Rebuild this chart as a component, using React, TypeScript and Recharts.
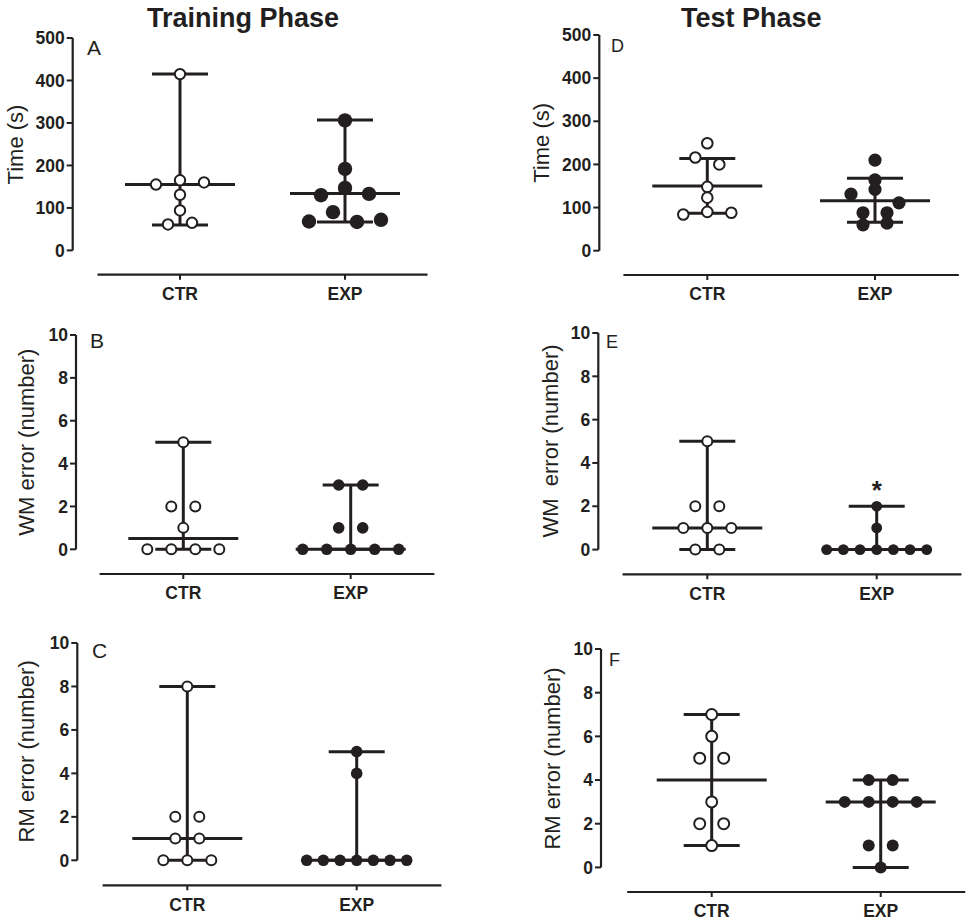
import React from 'react';
import { ScatterChart, Scatter, XAxis, YAxis, ReferenceLine, ReferenceDot } from 'recharts';

const groups = ['CTR', 'EXP'];

// Training phase (values listed row by row, left to right)
const timeTrainCtr = [415, 155, 165, 160, 131, 94, 61, 65];
const timeTrainExp = [306, 192, 130, 147, 133, 68, 90, 67, 72];
const timeTrainCtrLines = [155, 60, 415]; // centre, low, high
const timeTrainExpLines = [134, 67, 307];

const wmTrainCtr = [5, 2, 2, 1, 0, 0, 0, 0];
const wmTrainExp = [3, 3, 1, 1, 0, 0, 0, 0, 0];
const wmTrainCtrLines = [0.5, 0, 5];
const wmTrainExpLines = [0, 0, 3];

const rmTrainCtr = [8, 2, 2, 1, 1, 0, 0, 0];
const rmTrainExp = [5, 4, 0, 0, 0, 0, 0, 0, 0];
const rmTrainCtrLines = [1, 0, 8];
const rmTrainExpLines = [0, 0, 5];

// Test phase
const timeTestCtr = [249, 216, 200, 148, 123, 84, 90, 88];
const timeTestExp = [210, 164, 131, 142, 111, 88, 88, 60, 64];
const timeTestCtrLines = [150, 87, 214];
const timeTestExpLines = [116, 66, 168];

const wmTestCtr = [5, 2, 2, 1, 1, 1, 0, 0];
const wmTestExp = [2, 1, 0, 0, 0, 0, 0, 0, 0];
const wmTestCtrLines = [1, 0, 5];
const wmTestExpLines = [0, 0, 2];

const rmTestCtr = [7, 6, 5, 5, 3, 2, 2, 1];
const rmTestExp = [4, 4, 3, 3, 3, 3, 1, 1, 0];
const rmTestCtrLines = [4, 1, 7];
const rmTestExpLines = [3, 0, 4];

const timeTicks = [0, 100, 200, 300, 400, 500];
const errorTicks = [0, 2, 4, 6, 8, 10];

const FONT = '"Liberation Sans", Arial, Helvetica, sans-serif';
const INK = '#231f20';

// spread points of (nearly) equal value side by side, like a column scatter plot
function swarm(values: number[], centre: number, tol: number, step: number, maxHalf: number) {
  const order = values.map((_, i) => i).sort((a, b) => values[b] - values[a] || a - b);
  const rows: number[][] = [];
  let prev: number | null = null;
  for (const i of order) {
    if (prev !== null && Math.abs(values[i] - prev) <= tol + 1e-9) rows[rows.length - 1].push(i);
    else rows.push([i]);
    prev = values[i];
  }
  const pts: { x: number; y: number }[] = [];
  rows.forEach((row) => {
    row.sort((a, b) => a - b);
    const n = row.length;
    const gap = n > 1 ? Math.min(step, (2 * maxHalf) / (n - 1)) : 0;
    row.forEach((i, k) => pts.push({ x: centre + (k - (n - 1) / 2) * gap, y: values[i] }));
  });
  return pts;
}

const dotShape = (r: number, filled: boolean) => (props: any) => (
  <circle
    cx={props.cx}
    cy={props.cy}
    r={filled ? r : r - 1}
    fill={filled ? INK : '#fff'}
    stroke={filled ? 'none' : INK}
    strokeWidth={2}
  />
);

const panels = [
  { letter: 'A', yLabel: 'Time (s)', yMax: 500, ticks: timeTicks, ctr: timeTrainCtr, exp: timeTrainExp, ctrLines: timeTrainCtrLines, expLines: timeTrainExpLines,
    col: 0, axisX: 72.7, topY: 38.3, zeroY: 250.7, axisY: 275, ctrX: 180, expX: 345, labelX: 15, letterX: 87, letterY: 55, letterSize: 21, rOpen: 6.2, rFill: 7.2 },
  { letter: 'B', yLabel: 'WM error (number)', yMax: 10, ticks: errorTicks, ctr: wmTrainCtr, exp: wmTrainExp, ctrLines: wmTrainCtrLines, expLines: wmTrainExpLines,
    col: 0, axisX: 76, topY: 335, zeroY: 549.3, axisY: 574, ctrX: 183.3, expX: 350.7, labelX: 26, letterX: 90, letterY: 348, letterSize: 21, rOpen: 6, rFill: 5.8 },
  { letter: 'C', yLabel: 'RM error (number)', yMax: 10, ticks: errorTicks, ctr: rmTrainCtr, exp: rmTrainExp, ctrLines: rmTrainCtrLines, expLines: rmTrainExpLines,
    col: 0, axisX: 77.3, topY: 642.7, zeroY: 860, axisY: 885, ctrX: 187.3, expX: 356.7, labelX: 26, letterX: 92, letterY: 658, letterSize: 21, rOpen: 6, rFill: 5.8 },
  { letter: 'D', yLabel: 'Time (s)', yMax: 500, ticks: timeTicks, ctr: timeTestCtr, exp: timeTestExp, ctrLines: timeTestCtrLines, expLines: timeTestExpLines,
    col: 1, axisX: 599.3, topY: 35, zeroY: 250.7, axisY: 275, ctrX: 707.3, expX: 875, labelX: 541, letterX: 611, letterY: 52, letterSize: 18, rOpen: 6.3, rFill: 6.6 },
  { letter: 'E', yLabel: 'WM\u00a0 error (number)', yMax: 10, ticks: errorTicks, ctr: wmTestCtr, exp: wmTestExp, ctrLines: wmTestCtrLines, expLines: wmTestExpLines,
    col: 1, axisX: 598.3, topY: 332.7, zeroY: 549.3, axisY: 574, ctrX: 707.3, expX: 876.7, labelX: 550, letterX: 606, letterY: 348, letterSize: 18, rOpen: 6, rFill: 5.4, star: true },
  { letter: 'F', yLabel: 'RM error (number)', yMax: 10, ticks: errorTicks, ctr: rmTestCtr, exp: rmTestExp, ctrLines: rmTestCtrLines, expLines: rmTestExpLines,
    col: 1, axisX: 601, topY: 649.3, zeroY: 867.7, axisY: 892.3, ctrX: 711.7, expX: 880.7, labelX: 552, letterX: 609, letterY: 666, letterSize: 18, rOpen: 6.5, rFill: 6 },
];

function DotPanel({ p }: { p: any }) {
  const unit = p.expX - p.ctrX;
  const xMin = 1 - (p.ctrX - p.axisX) / unit;
  const xMax = 2.5;
  const yMin = (-p.yMax * (p.axisY - p.zeroY)) / (p.zeroY - p.topY);
  const boxLeft = p.col === 0 ? 0 : 484;
  const width = p.col === 0 ? 480 : 484;
  const boxTop = p.topY - 20;
  const xAxisH = 34;
  const yAxisW = 60;
  const height = Math.round(p.axisY - boxTop + xAxisH + 4);
  const margin = {
    top: p.topY - boxTop,
    left: p.axisX - boxLeft - yAxisW,
    right: boxLeft + width - (p.expX + 0.5 * unit),
    bottom: boxTop + height - p.axisY - xAxisH,
  };
  const tol = p.yMax * 0.04;
  const ctrPts = swarm(p.ctr, 1, tol, 24 / unit, 50 / unit);
  const expPts = swarm(p.exp, 2, tol, 24 / unit, 50 / unit);
  const hw = 55 / unit;
  const cw = 28 / unit;

  const summary = (c: number, lines: number[]) => {
    const [m, lo, hi] = lines;
    return [
      <ReferenceLine key={`v${c}`} segment={[{ x: c, y: lo }, { x: c, y: hi }]} stroke={INK} strokeWidth={3} ifOverflow="visible" />,
      <ReferenceLine key={`lo${c}`} segment={[{ x: c - cw, y: lo }, { x: c + cw, y: lo }]} stroke={INK} strokeWidth={3} ifOverflow="visible" />,
      <ReferenceLine key={`hi${c}`} segment={[{ x: c - cw, y: hi }, { x: c + cw, y: hi }]} stroke={INK} strokeWidth={3} ifOverflow="visible" />,
      <ReferenceLine key={`m${c}`} segment={[{ x: c - hw, y: m }, { x: c + hw, y: m }]} stroke={INK} strokeWidth={3} ifOverflow="visible" />,
    ];
  };

  return (
    <div style={{ position: 'absolute', left: boxLeft, top: boxTop }}>
      <ScatterChart width={width} height={height} margin={margin}>
        <XAxis
          type="number"
          dataKey="x"
          domain={[xMin, xMax]}
          allowDataOverflow
          ticks={[1, 2]}
          tickFormatter={(v: number) => groups[v - 1]}
          axisLine={false}
          tickLine={{ stroke: INK, strokeWidth: 2 }}
          tickSize={5}
          tickMargin={8}
          height={xAxisH}
          tick={{ fill: INK, fontSize: 17.5, fontWeight: 700, fontFamily: FONT }}
        />
        <YAxis
          type="number"
          dataKey="y"
          domain={[yMin, p.yMax]}
          allowDataOverflow
          ticks={p.ticks}
          axisLine={false}
          tickLine={{ stroke: INK, strokeWidth: 2 }}
          tickSize={6}
          tickMargin={2}
          width={yAxisW}
          tick={{ fill: INK, fontSize: 17.5, fontWeight: 700, fontFamily: FONT }}
        />
        <ReferenceLine segment={[{ x: xMin, y: 0 }, { x: xMin, y: p.yMax }]} stroke={INK} strokeWidth={2.2} ifOverflow="visible" />
        <ReferenceLine segment={[{ x: 0.5, y: yMin }, { x: xMax, y: yMin }]} stroke={INK} strokeWidth={2.2} ifOverflow="visible" />
        <Scatter data={ctrPts} shape={dotShape(p.rOpen, false)} isAnimationActive={false} />
        <Scatter data={expPts} shape={dotShape(p.rFill, true)} isAnimationActive={false} />
        {summary(1, p.ctrLines)}
        {summary(2, p.expLines)}
        {p.star && (
          <ReferenceDot
            x={2}
            y={p.expLines[2]}
            r={1}
            fill="none"
            stroke="none"
            ifOverflow="visible"
            label={{ value: '*', position: 'top', offset: 6, fill: INK, fontSize: 26, fontWeight: 700, fontFamily: FONT }}
          />
        )}
      </ScatterChart>
    </div>
  );
}

export default function App() {
  return (
    <div style={{ position: 'absolute', left: 0, top: 0, width: 968, height: 924, background: '#fff', fontFamily: FONT }}>
      {panels.map((p) => (
        <DotPanel key={p.letter} p={p} />
      ))}
      <svg width={968} height={924} style={{ position: 'absolute', left: 0, top: 0, pointerEvents: 'none' }}>
        <text x={147} y={27} fontSize={27} fontWeight={700} fill={INK} fontFamily={FONT}>Training Phase</text>
        <text x={681} y={27} fontSize={27} fontWeight={700} fill={INK} fontFamily={FONT}>Test Phase</text>
        {panels.map((p) => (
          <g key={p.letter}>
            <text
              transform={`translate(${p.labelX},${(p.topY + p.zeroY) / 2}) rotate(-90)`}
              textAnchor="middle"
              dominantBaseline="central"
              fontSize={22}
              fill={INK}
              fontFamily={FONT}
            >
              {p.yLabel}
            </text>
            <text x={p.letterX} y={p.letterY} fontSize={p.letterSize} fill={INK} fontFamily={FONT}>
              {p.letter}
            </text>
          </g>
        ))}
      </svg>
    </div>
  );
}
